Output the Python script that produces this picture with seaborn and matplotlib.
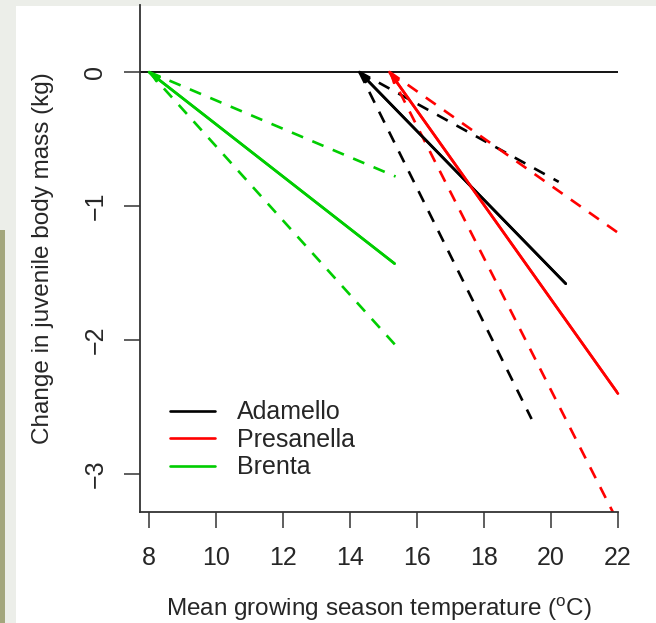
import matplotlib
matplotlib.use("Agg")
import matplotlib.pyplot as plt
import matplotlib.patches as mpatches
import seaborn as sns
import pandas as pd

sites = ["Adamello", "Presanella", "Brenta"]
colors = ["#000000", "#ff0000", "#00cd00"]
start_temp = [14.28, 15.18, 8.0]
est_end_temp = [20.44, 22.0, 15.33]
est_end_change = [-1.58, -2.40, -1.43]
upper_end_temp = [20.23, 22.0, 15.36]
upper_end_change = [-0.82, -1.20, -0.78]
lower_end_temp = [19.42, 22.0, 15.36]
lower_end_change = [-2.59, -3.36, -2.04]
x_ticks = [8, 10, 12, 14, 16, 18, 20, 22]
y_ticks = [0, -1, -2, -3]
y_tick_labels = ["0", "\u22121", "\u22122", "\u22123"]

sns.set_theme(style="ticks")
plt.rcParams["font.family"] = ["Liberation Sans", "DejaVu Sans"]
plt.rcParams["mathtext.fontset"] = "custom"
plt.rcParams["mathtext.rm"] = "Liberation Sans"

fig = plt.figure(figsize=(6.56, 6.23), dpi=100, facecolor="#eceee9")
fig.patches.append(mpatches.Rectangle((16 / 656, 0), 1, 1 - 6 / 623, transform=fig.transFigure,
                                      facecolor="white", edgecolor="none", zorder=-10))
fig.patches.append(mpatches.Rectangle((0, 0), 5 / 656, 1 - 230 / 623, transform=fig.transFigure,
                                      facecolor="#a3a67c", edgecolor="none", zorder=-10))
ax = fig.add_axes([140 / 656, 1 - 512 / 623, 478 / 656, 507 / 623])
ax.set_zorder(5)
ax.set_facecolor("none")

ax.axhline(0, color="black", lw=1.3, zorder=1)

lw = 1.9
for i, site in enumerate(sites):
    c = colors[i]
    df_up = pd.DataFrame({"t": [start_temp[i], upper_end_temp[i]], "m": [0, upper_end_change[i]]})
    df_lo = pd.DataFrame({"t": [start_temp[i], lower_end_temp[i]], "m": [0, lower_end_change[i]]})
    df_est = pd.DataFrame({"t": [start_temp[i], est_end_temp[i]], "m": [0, est_end_change[i]]})
    for d in (df_up, df_lo):
        sns.lineplot(data=d, x="t", y="m", ax=ax, color=c, lw=lw, sort=False)
        ax.lines[-1].set_dashes((4.6, 3.8))
    sns.lineplot(data=df_est, x="t", y="m", ax=ax, color=c, lw=lw, sort=False, label=site)
    ax.annotate("", xy=(start_temp[i], 0), xytext=(est_end_temp[i], est_end_change[i]),
                arrowprops=dict(arrowstyle="-|>,head_length=0.45,head_width=0.16", color=c,
                                lw=lw, shrinkA=0, shrinkB=0, mutation_scale=12))

ax.set_xlim(7.73, 22.0)
ax.set_ylim(-3.284, 0.5)
ax.set_xticks(x_ticks)
ax.set_yticks(y_ticks)
ax.set_xticklabels([str(v) for v in x_ticks])
ax.set_yticklabels(y_tick_labels)
for lab in ax.get_yticklabels():
    lab.set_rotation(90)
    lab.set_va("center")
ax.tick_params(axis="both", length=11.5, width=1.1, labelsize=18, pad=13, color="#333333")
ax.tick_params(axis="y", pad=12)
for s in ["top", "right"]:
    ax.spines[s].set_visible(False)
for s in ["left", "bottom"]:
    ax.spines[s].set_linewidth(1.3)
    ax.spines[s].set_color("#333333")

ax.set_xlabel(r"Mean growing season temperature ($^{\mathrm{o}}$C)", fontsize=17.5, labelpad=18)
ax.set_ylabel("Change in juvenile body mass (kg)", fontsize=17.5, labelpad=21)

handles, labels = ax.get_legend_handles_labels()
leg = ax.legend(handles, labels, loc="upper left", bbox_to_anchor=(0.042, 0.240), frameon=False,
                fontsize=18, handlelength=1.8, handletextpad=0.88, labelspacing=0.14, borderaxespad=0)

fig.savefig("out.png", dpi=100, facecolor=fig.get_facecolor())
